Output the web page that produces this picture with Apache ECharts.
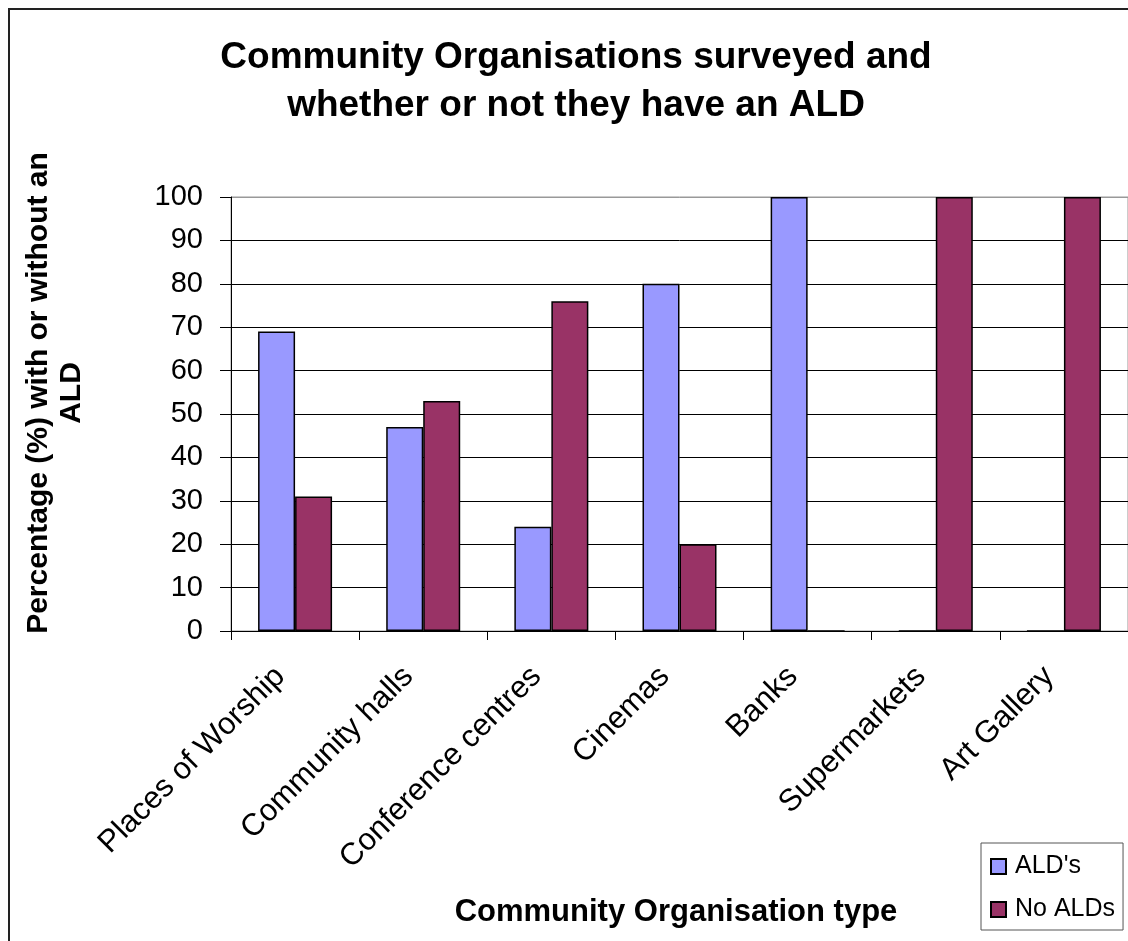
<!DOCTYPE html>
<html>
<head>
<meta charset="utf-8">
<script src="https://cdn.jsdelivr.net/npm/echarts@6/dist/echarts.min.js"></script>
<style>
  html, body { margin: 0; padding: 0; background: #fff; }
  #chart { width: 1128px; height: 941px; }
</style>
</head>
<body>
<div id="chart"></div>
<script>
// data
const categories = ['Places of Worship', 'Community halls', 'Conference centres', 'Cinemas', 'Banks', 'Supermarkets', 'Art Gallery']
const aldValues = [69, 47, 24, 80, 100, 0, 0]
const noAldValues = [31, 53, 76, 20, 0, 100, 100]
const seriesNames = ["ALD's", 'No ALDs']

const font = 'Liberation Sans, Arial, sans-serif'

const myChart = echarts.init(document.getElementById('chart'))
const option = {
	animation: false,
	textStyle: { fontFamily: font, color: '#000' },
	title: {
		text: 'Community Organisations surveyed and\nwhether or not they have an ALD',
		left: 571,
		textAlign: 'center',
		top: 29,
		textStyle: { fontSize: 37, fontWeight: 'bold', lineHeight: 48, color: '#000', fontFamily: font }
	},
	graphic: [
		{
			// outer chart border, cut off by the right and bottom edges
			type: 'rect',
			shape: { x: 9, y: 9, width: 1200, height: 1000 },
			style: { fill: 'none', stroke: '#222', lineWidth: 2 },
			silent: true
		},
		{
			type: 'text',
			x: 55,
			y: 393,
			rotation: Math.PI / 2,
			style: {
				text: 'Percentage (%) with or without an\nALD',
				font: 'bold 30px ' + font,
				fill: '#000',
				align: 'center',
				verticalAlign: 'middle',
				lineHeight: 33
			}
		},
		{
			type: 'text',
			x: 676,
			y: 912,
			style: {
				text: 'Community Organisation type',
				font: 'bold 31px ' + font,
				fill: '#000',
				align: 'center',
				verticalAlign: 'middle'
			}
		}
	],
	legend: {
		orient: 'vertical',
		left: 981,
		top: 843,
		itemWidth: 15,
		itemHeight: 15,
		itemGap: 18,
		padding: [11, 8, 8, 9],
		borderColor: '#555',
		borderWidth: 1,
		icon: 'rect',
		textStyle: { fontSize: 25, color: '#000', fontFamily: font, padding: [0, 0, 0, 4] },
		data: seriesNames
	},
	grid: {
		left: 231,
		top: 197,
		width: 900,
		height: 434,
		show: true,
		borderColor: '#999',
		borderWidth: 1
	},
	xAxis: {
		type: 'category',
		data: categories,
		axisLine: { lineStyle: { color: '#000', width: 1 } },
		axisTick: { show: true, length: 9, lineStyle: { color: '#000' } },
		axisLabel: {
			rotate: 45, fontSize: 31, color: '#000', margin: 26, interval: 0, fontFamily: font,
			padding: [0, 21, 0, 0]
		},
		splitLine: { show: false }
	},
	yAxis: {
		type: 'value',
		min: 0,
		max: 100,
		interval: 10,
		axisLine: { show: true, lineStyle: { color: '#000', width: 1 } },
		axisTick: { show: true, length: 11, lineStyle: { color: '#000' } },
		axisLabel: { fontSize: 29, color: '#000', margin: 28, fontFamily: font },
		splitLine: {
			show: true,
			lineStyle: { color: ['#000', '#000', '#000', '#000', '#000', '#000', '#000', '#000', '#000', '#000', '#999'], width: 1 }
		}
	},
	series: [
		{
			name: seriesNames[0],
			type: 'bar',
			data: aldValues,
			barWidth: 37,
			barGap: '0%',
			itemStyle: { color: '#9999FF', borderColor: '#000', borderWidth: 1.5 }
		},
		{
			name: seriesNames[1],
			type: 'bar',
			data: noAldValues,
			barWidth: 37,
			barGap: '0%',
			itemStyle: { color: '#993366', borderColor: '#000', borderWidth: 1.5 }
		}
	]
}
myChart.setOption(option)
</script>
</body>
</html>
